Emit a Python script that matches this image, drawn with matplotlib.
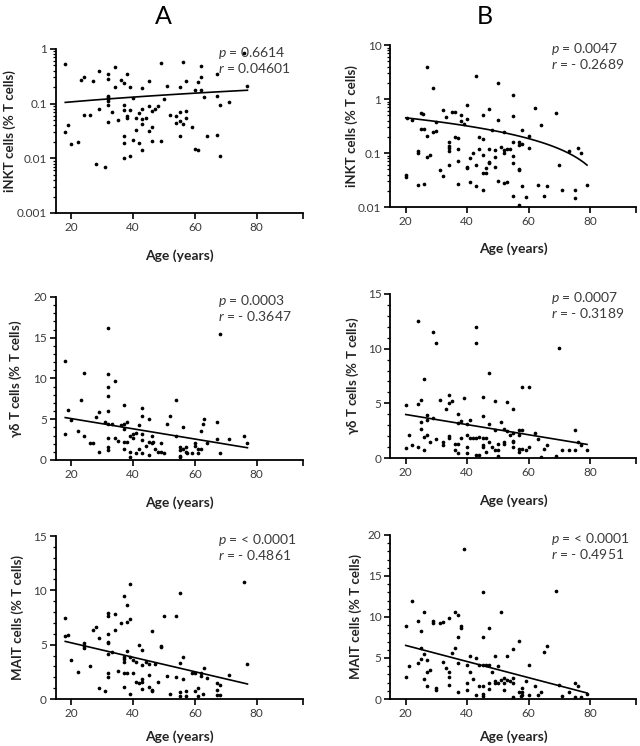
import numpy as np
import matplotlib
matplotlib.use("Agg")
import matplotlib.pyplot as plt
from matplotlib.ticker import LogLocator, MultipleLocator, FixedLocator, NullFormatter

plt.rcParams['font.family'] = ['Lato', 'DejaVu Sans']
plt.rcParams['mathtext.fontset'] = 'custom'
plt.rcParams['mathtext.rm'] = 'Lato'
plt.rcParams['mathtext.it'] = 'Lato:italic'
plt.rcParams['mathtext.bf'] = 'Lato:bold'

# (age, value) pairs
a_inkt = [(18, 0.53), (18, 0.030), (19, 0.040), (20, 0.018), (22, 0.020), (23, 0.27), (24, 0.31),
          (24, 0.063), (26, 0.063), (27, 0.26), (28, 0.008), (29, 0.40), (29, 0.080), (31, 0.007),
          (32, 0.34), (32, 0.28), (32, 0.14), (32, 0.13), (32, 0.12), (32, 0.11), (32, 0.096),
          (32, 0.047), (33, 0.071), (34, 0.47), (34, 0.20), (35, 0.050), (36, 0.27), (37, 0.24),
          (37, 0.093), (37, 0.076), (37, 0.026), (37, 0.019), (37, 0.010), (38, 0.34), (38, 0.060),
          (38, 0.054), (39, 0.20), (39, 0.076), (39, 0.011), (40, 0.125), (40, 0.022), (41, 0.054),
          (41, 0.033), (42, 0.066), (42, 0.019), (43, 0.19), (43, 0.081), (43, 0.052), (43, 0.043),
          (43, 0.014), (44, 0.055), (45, 0.26), (45, 0.091), (45, 0.032), (46, 0.074), (46, 0.038),
          (46, 0.021), (47, 0.081), (48, 0.091), (49, 0.55), (49, 0.021), (50, 0.12), (51, 0.21),
          (52, 0.063), (54, 0.059), (54, 0.044), (55, 0.071), (55, 0.048), (55, 0.20), (55, 0.026),
          (56, 0.57), (56, 0.043), (57, 0.26), (57, 0.073), (57, 0.055), (59, 0.038), (60, 0.18),
          (60, 0.015), (61, 0.014), (61, 0.25), (62, 0.49), (62, 0.31), (62, 0.18), (63, 0.13),
          (64, 0.026), (67, 0.34), (67, 0.14), (67, 0.027), (68, 0.096), (68, 0.011), (71, 0.105),
          (76, 0.85), (77, 0.21)]

b_inkt = [(20, 0.040), (20, 0.036), (20.4, 0.44), (22, 0.41), (24, 0.107), (24, 0.10), (24, 0.026),
          (25, 0.55), (25.5, 0.52), (25, 0.28), (26, 0.28), (26, 0.027), (27, 4.0), (27, 0.21),
          (27, 0.085), (28, 0.093), (29, 1.6), (29, 0.245), (30, 0.26), (30, 0.38), (31, 0.048),
          (32, 0.63), (32, 0.037), (33, 0.46), (34, 0.16), (34, 0.138), (34, 0.123), (34, 0.11),
          (34, 0.060), (35, 0.57), (36, 0.57), (36, 0.20), (37, 0.19), (37, 0.12), (37, 0.070),
          (37, 0.027), (38, 0.51), (38, 0.40), (39, 0.35), (40, 0.77), (40, 0.43), (40, 0.055),
          (40, 0.052), (41, 0.029), (41, 0.081), (42, 0.10), (43, 2.7), (43, 0.059), (43, 0.025),
          (44, 0.20), (44, 0.117), (45, 0.51), (45, 0.18), (45, 0.094), (45, 0.043), (46, 0.043),
          (45, 0.021), (46, 0.053), (47, 0.65), (47, 0.12), (47, 0.068), (47, 0.065), (48, 0.27),
          (49, 0.112), (49, 0.083), (49, 0.054), (50, 2.0), (50, 0.41), (50, 0.031), (51, 0.13),
          (52, 0.245), (52, 0.115), (52, 0.10), (52, 0.028), (53, 0.029), (53, 0.118), (54, 0.118),
          (55, 1.17), (55, 0.49), (55, 0.16), (55, 0.087), (55, 0.065), (55, 0.016), (57, 0.16),
          (57, 0.14), (57, 0.050), (57, 0.048), (57, 0.011), (58, 0.27), (58, 0.148), (58, 0.025),
          (59, 0.0155), (60, 0.21), (60, 0.126), (62, 0.68), (63, 0.026), (64, 0.33), (65, 0.016),
          (66, 0.025), (69, 0.56), (70, 0.060), (71, 0.021), (73, 0.11), (75, 0.021), (75, 0.015),
          (76, 0.125), (77, 0.102), (79, 0.026)]

a_gd = [(18, 12.2), (19, 6.1), (18, 3.2), (20, 4.9), (22, 3.5), (23, 7.3), (24, 10.7), (24, 2.95),
        (26, 2.05), (27, 2.1), (28, 5.3), (29, 5.9), (29, 1.0), (31, 4.6), (32, 16.2), (32, 10.5),
        (32, 9.0), (32, 7.9), (32, 6.0), (32, 4.4), (32, 2.7), (32, 1.6), (32, 1.2), (33, 4.4),
        (34, 9.75), (34, 2.7), (35, 2.3), (36, 4.3), (37, 4.4), (37, 6.75), (37, 3.8), (37, 2.25),
        (37, 1.3), (38, 4.7), (38, 2.25), (39, 1.0), (39, 0.4), (39, 2.9), (40, 3.2), (40, 2.7),
        (41, 3.3), (41, 0.9), (42, 4.3), (42, 1.4), (43, 6.4), (43, 5.45), (43, 3.2), (43, 2.4),
        (43, 0.8), (44, 1.75), (45, 5.0), (45, 2.25), (45, 0.57), (46, 3.0), (46, 2.05), (46.5, 2.25),
        (47, 1.35), (48, 1.0), (49, 2.05), (49, 1.0), (50, 0.9), (51, 4.4), (52, 5.45), (54, 7.3),
        (54, 3.0), (55, 1.6), (55, 1.2), (55, 0.5), (55, 0.35), (56, 1.4), (56, 4.0), (57, 1.6),
        (57, 1.0), (57.5, 0.9), (59, 0.9), (60, 2.1), (60, 1.7), (61, 1.35), (61, 0.9), (62, 1.35),
        (62, 3.5), (62.5, 4.4), (63, 5.0), (64, 2.05), (67, 4.7), (67, 2.55), (68, 15.4), (68, 0.9),
        (71, 2.55), (76, 3.0), (77, 2.1)]

b_gd = [(20, 0.95), (20, 4.85), (21, 2.15), (22, 1.2), (24, 1.05), (24, 4.9), (24, 12.5), (25, 5.3),
        (25, 3.3), (25, 2.7), (26, 7.2), (26, 0.7), (26, 1.9), (27, 3.9), (27, 3.45), (27, 2.1),
        (28, 1.5), (29, 11.5), (29, 3.65), (30, 10.5), (30, 1.7), (31, 5.3), (32, 1.5), (32, 1.2),
        (33, 4.5), (34, 5.75), (34, 5.0), (34, 2.0), (34, 1.8), (35, 5.2), (36, 1.3), (36, 0.7),
        (37, 4.0), (37, 3.2), (37, 1.3), (37, 0.45), (38, 3.4), (38, 1.8), (39, 5.5), (40, 3.15),
        (40, 2.15), (40, 1.0), (40, 0.45), (41, 3.45), (41, 1.8), (42, 1.8), (43, 1.8), (43, 12.0),
        (43, 10.5), (43, 0.3), (44, 0.3), (44, 1.9), (45, 5.6), (45, 3.85), (45, 1.8), (46, 1.8),
        (45, 1.15), (45, 1.0), (46, 0.55), (47, 7.8), (47, 3.15), (47, 1.5), (48, 1.0), (49, 5.2),
        (49, 2.55), (49, 0.7), (50, 1.3), (50, 0.7), (50, 0.15), (51, 3.3), (52, 2.7), (52, 1.3),
        (52, 1.45), (53, 5.1), (53, 2.5), (54, 2.15), (55, 4.45), (55, 1.6), (55, 1.45), (55, 2.25),
        (55, 1.0), (57, 2.55), (58, 2.55), (57, 2.15), (57, 0.85), (58, 0.85), (57, 0.55), (58, 6.5),
        (60, 6.5), (59, 0.7), (60, 1.0), (62, 2.25), (63, 1.7), (64, 0.1), (65, 0.85), (66, 1.15),
        (69, 0.15), (70, 10.05), (71, 0.7), (73, 0.7), (75, 2.6), (75, 0.75), (76, 1.5), (77, 1.15),
        (79, 0.75)]

a_mait = [(18, 7.5), (18, 5.8), (19, 5.9), (20, 3.6), (22, 2.45), (24, 5.15), (24, 4.85), (24, 4.7),
          (26, 3.05), (27, 6.35), (28, 6.6), (29, 5.65), (29, 1.0), (31, 0.7), (32, 7.9), (32, 7.65),
          (32, 6.0), (32, 5.25), (32, 5.15), (32, 4.1), (32, 2.4), (32, 2.0), (33, 4.3), (34, 7.8),
          (34, 6.35), (35, 2.55), (36, 7.0), (37, 9.5), (37, 3.9), (37, 3.65), (37, 3.4), (37, 2.4),
          (37, 1.15), (38, 8.65), (38, 7.1), (38, 4.4), (38, 2.4), (39, 10.6), (39, 7.4), (39, 3.9),
          (39, 0.5), (40, 2.4), (40, 3.6), (41, 3.4), (41, 1.6), (42, 5.0), (42, 1.5), (43, 4.5),
          (43, 3.15), (43, 1.8), (43, 1.6), (43, 0.9), (44, 3.45), (45, 2.25), (45, 3.25), (45, 1.1),
          (46, 6.3), (46, 0.85), (46, 0.75), (47, 3.25), (48, 1.6), (49, 4.9), (49, 4.8), (50, 7.6),
          (51, 2.1), (52, 0.45), (54, 7.65), (54, 2.0), (55, 9.75), (55, 3.3), (55, 0.65), (55, 0.3),
          (56, 3.9), (56, 1.85), (57, 0.7), (57, 0.3), (59, 2.4), (60, 2.4), (60, 0.7), (61, 1.0),
          (61, 0.25), (62, 2.15), (62, 2.4), (62.5, 0.45), (63, 2.85), (64, 1.95), (67, 1.45), (68, 1.3),
          (67, 0.85), (67, 0.4), (68, 0.4), (71, 2.25), (76, 10.8), (77, 3.25)]

b_mait = [(20, 8.85), (20, 2.7), (21, 4.0), (22, 11.9), (24, 9.45), (24, 4.4), (25, 8.25), (25, 6.2),
          (25, 4.85), (26, 10.65), (26, 5.5), (26, 2.45), (27, 4.8), (27, 3.35), (27, 1.55), (28, 3.5),
          (29, 9.45), (29, 9.25), (30, 1.35), (30, 1.15), (31, 9.25), (32, 9.35), (32, 4.45), (33, 3.75),
          (34, 9.85), (34, 3.25), (34, 2.65), (34, 1.75), (35, 5.6), (36, 10.55), (36, 6.2), (37, 10.25),
          (37, 7.6), (37, 4.4), (37, 0.8), (38, 8.9), (38, 8.65), (39, 18.3), (40, 4.2), (40, 1.95),
          (40, 1.05), (41, 5.2), (41, 3.35), (42, 2.45), (43, 5.0), (43, 0.5), (44, 4.1), (45, 4.1),
          (44, 1.55), (45, 1.55), (45, 13.0), (45, 7.6), (45, 0.6), (45, 0.4), (46, 4.1), (47, 8.65),
          (47, 4.1), (47, 2.0), (47, 1.25), (48, 3.35), (49, 5.25), (49, 2.25), (49, 1.95), (50, 4.05),
          (50, 1.95), (51, 10.65), (51, 2.35), (52, 2.55), (52, 2.0), (52, 1.05), (53, 5.25), (53, 2.35),
          (54, 2.15), (55, 2.55), (55, 2.0), (55, 6.1), (55, 0.3), (57, 7.1), (57, 0.8), (58, 0.8),
          (58, 0.5), (57.5, 0.4), (58, 1.35), (59, 2.15), (60, 4.15), (60, 0.5), (62, 1.6), (63, 0.5),
          (64, 0.8), (65, 5.7), (66, 6.5), (69, 13.2), (70, 1.75), (71, 0.4), (73, 0.8), (75, 2.0),
          (75, 0.3), (76, 1.6), (77, 0.3), (79, 0.65)]

# linear fit (intercept, slope)
a_inkt_fit = (0.0836, 0.00119)
b_inkt_fit = (0.582, -0.00661)
a_gd_fit = (6.33, -0.0627)
b_gd_fit = (4.905, -0.0463)
a_mait_fit = (6.495, -0.0664)
b_mait_fit = (8.496, -0.0983)

stats = {
    'a_inkt': ('0.6614', '0.04601'), 'b_inkt': ('0.0047', '- 0.2689'),
    'a_gd': ('0.0003', '- 0.3647'), 'b_gd': ('0.0007', '- 0.3189'),
    'a_mait': ('< 0.0001', '- 0.4861'), 'b_mait': ('< 0.0001', '- 0.4951'),
}

INKT_LABEL = 'iNKT cells (% T cells)'
GD_LABEL = r'$\mathregular{\gamma\delta}$ T cells (% T cells)'
MAIT_LABEL = 'MAIT cells (% T cells)'

TICK_COLOR = '#3a3a3a'


def panel(fig, rect, pairs, fit, stat, ylabel, ylim, log=False, major=None,
          ylab_x=-0.13, xlab_y=-0.22):
    ax = fig.add_axes(rect)
    age, val = np.array(pairs).T
    ax.scatter(age, val, s=7, color='black', linewidths=0, zorder=3)

    xs = np.linspace(age.min(), age.max(), 100)
    ax.plot(xs, fit[0] + fit[1] * xs, color='black', lw=1.2, zorder=2)

    ax.set_xlim(15, 95)
    ax.set_ylim(*ylim)
    if log:
        ax.set_yscale('log')
        ax.yaxis.set_major_locator(LogLocator(base=10, numticks=10))
        ax.yaxis.set_minor_locator(LogLocator(base=10, subs=np.arange(2, 10), numticks=10))
        ax.yaxis.set_minor_formatter(NullFormatter())
        ax.yaxis.set_major_formatter(plt.FuncFormatter(lambda v, p: f'{v:g}'))
    else:
        ax.yaxis.set_major_locator(MultipleLocator(major))
        ax.yaxis.set_minor_locator(MultipleLocator(1))

    ax.xaxis.set_major_locator(FixedLocator([20, 40, 60, 80]))
    ax.xaxis.set_minor_locator(FixedLocator([95]))

    for side in ('top', 'right'):
        ax.spines[side].set_visible(False)
    for side in ('left', 'bottom'):
        ax.spines[side].set_linewidth(1.3)

    ax.tick_params(which='major', length=4.5, width=1.2, labelsize=8.5, labelcolor=TICK_COLOR, pad=2)
    ax.tick_params(which='minor', length=2.5, width=0.9)
    ax.tick_params(axis='x', which='minor', length=4.5, width=1.2)

    ax.set_xlabel('Age (years)', fontsize=10, fontweight='bold', color='#222222')
    ax.xaxis.set_label_coords(0.5, xlab_y)
    ax.set_ylabel(ylabel, fontsize=9.5, fontweight='bold', color='#222222')
    ax.yaxis.set_label_coords(ylab_x, 0.5)

    ax.text(0.655, 0.975, r'$p$ = ' + stat[0], transform=ax.transAxes,
            fontsize=10, color=TICK_COLOR, va='center', ha='left')
    ax.text(0.655, 0.885, r'$r$ = ' + stat[1], transform=ax.transAxes,
            fontsize=10, color=TICK_COLOR, va='center', ha='left')
    return ax


fig = plt.figure(figsize=(6.4, 7.46), dpi=100)

panel(fig, [0.0875, 0.7145, 0.386, 0.22], a_inkt, a_inkt_fit, stats['a_inkt'],
      INKT_LABEL, (0.001, 1), log=True, ylab_x=-0.163)
panel(fig, [0.610, 0.7225, 0.384, 0.217], b_inkt, b_inkt_fit, stats['b_inkt'],
      INKT_LABEL, (0.01, 10), log=True, ylab_x=-0.13)
panel(fig, [0.0875, 0.3834, 0.386, 0.2185], a_gd, a_gd_fit, stats['a_gd'],
      GD_LABEL, (0, 20), major=5, ylab_x=-0.13)
panel(fig, [0.610, 0.386, 0.384, 0.22], b_gd, b_gd_fit, stats['b_gd'],
      GD_LABEL, (0, 15), major=5, ylab_x=-0.118)
panel(fig, [0.0875, 0.063, 0.386, 0.2185], a_mait, a_mait_fit, stats['a_mait'],
      MAIT_LABEL, (0, 15), major=5, ylab_x=-0.13, xlab_y=-0.19)
panel(fig, [0.610, 0.063, 0.384, 0.22], b_mait, b_mait_fit, stats['b_mait'],
      MAIT_LABEL, (0, 20), major=5, ylab_x=-0.114, xlab_y=-0.19)

fig.text(163 / 640, 1 - 17 / 746, 'A', fontsize=18, ha='center', va='center')
fig.text(485 / 640, 1 - 17 / 746, 'B', fontsize=18, ha='center', va='center')

fig.savefig('out.png', dpi=100)
